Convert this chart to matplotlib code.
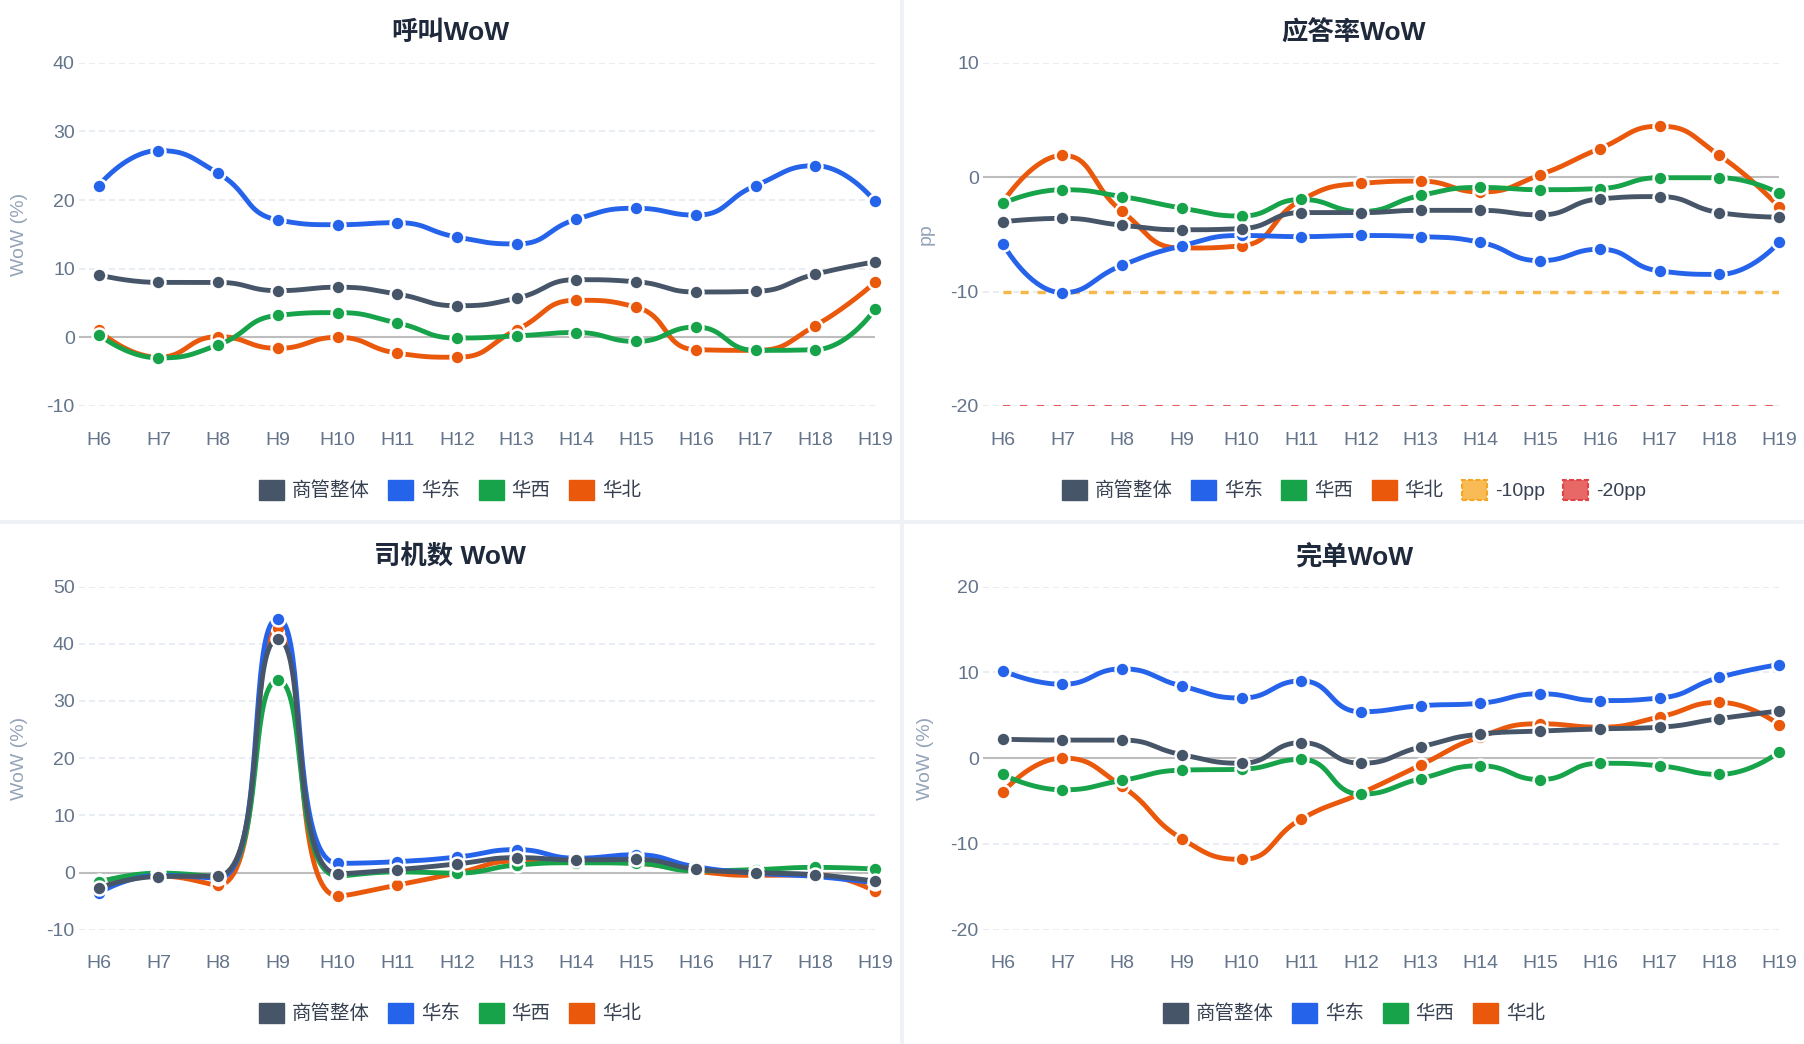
import numpy as np
import matplotlib
matplotlib.use('Agg')
import matplotlib.pyplot as plt
from matplotlib.patches import Patch, Rectangle

plt.rcParams['font.family'] = ['Liberation Sans', 'Noto Sans CJK SC']
plt.rcParams['lines.scale_dashes'] = False
plt.rcParams['axes.unicode_minus'] = False

# ---------------- data ----------------
hours = ['H6', 'H7', 'H8', 'H9', 'H10', 'H11', 'H12', 'H13', 'H14', 'H15', 'H16', 'H17', 'H18', 'H19']
series_names = ['商管整体', '华东', '华西', '华北']
series_colors = ['#475569', '#2563eb', '#16a34a', '#ea580c']

# 呼叫WoW (%)
call_total = [9.1, 8.0, 8.0, 6.8, 7.3, 6.3, 4.6, 5.7, 8.4, 8.1, 6.6, 6.7, 9.2, 11.0]
call_east = [22.1, 27.2, 23.9, 17.1, 16.4, 16.7, 14.6, 13.6, 17.2, 18.8, 17.8, 22.1, 25.0, 19.8]
call_west = [0.4, -3.0, -1.1, 3.2, 3.6, 2.1, -0.1, 0.2, 0.7, -0.6, 1.5, -1.9, -1.8, 4.1]
call_north = [1.0, -2.9, 0.1, -1.6, 0.0, -2.3, -2.9, 1.1, 5.4, 4.4, -1.8, -1.9, 1.7, 8.0]

# 应答率WoW (pp)
ans_total = [-3.9, -3.6, -4.2, -4.6, -4.5, -3.1, -3.1, -2.9, -2.9, -3.3, -1.9, -1.7, -3.1, -3.5]
ans_east = [-5.8, -10.1, -7.7, -6.0, -5.1, -5.2, -5.1, -5.2, -5.7, -7.3, -6.3, -8.2, -8.5, -5.7]
ans_west = [-2.3, -1.1, -1.7, -2.7, -3.4, -1.95, -3.0, -1.6, -0.9, -1.1, -1.0, -0.05, -0.05, -1.4]
ans_north = [-2.2, 1.9, -3.0, -6.2, -6.0, -2.0, -0.55, -0.35, -1.3, 0.2, 2.5, 4.45, 1.9, -2.6]
ref_names = ['-10pp', '-20pp']
ref_values = [-10, -20]

# 司机数 WoW (%)
drv_total = [-2.7, -0.7, -0.6, 40.8, -0.2, 0.5, 1.5, 2.6, 2.2, 2.3, 0.6, 0.0, -0.4, -1.5]
drv_east = [-3.6, -0.5, -1.0, 44.4, 1.6, 1.9, 2.7, 4.0, 2.5, 3.1, 1.0, -0.1, -0.7, -1.8]
drv_west = [-1.7, -0.1, -0.7, 33.6, -0.6, 0.1, -0.1, 1.3, 1.7, 1.6, 0.3, 0.5, 0.9, 0.6]
drv_north = [-1.5, -0.6, -2.2, 42.7, -4.1, -2.2, -0.1, 2.0, 1.9, 1.6, 0.2, -0.5, -0.4, -3.3]

# 完单WoW (%)
ord_total = [2.2, 2.1, 2.1, 0.4, -0.6, 1.8, -0.6, 1.3, 2.8, 3.15, 3.4, 3.6, 4.6, 5.5]
ord_east = [10.2, 8.6, 10.4, 8.4, 7.0, 9.0, 5.4, 6.1, 6.4, 7.5, 6.7, 7.0, 9.4, 10.9]
ord_west = [-1.9, -3.7, -2.6, -1.4, -1.3, -0.15, -4.2, -2.4, -0.9, -2.5, -0.6, -0.9, -1.9, 0.7]
ord_north = [-4.0, 0.0, -3.3, -9.4, -11.8, -7.1, -4.1, -0.8, 2.5, 4.0, 3.6, 4.8, 6.5, 3.9]

panel_titles = ['呼叫WoW', '应答率WoW', '司机数 WoW', '完单WoW']
panel_ylabels = ['WoW (%)', 'pp', 'WoW (%)', 'WoW (%)']
panel_ylims = [(-10, 40), (-20, 10), (-10, 50), (-20, 20)]
panel_yticks = [[-10, 0, 10, 20, 30, 40], [-20, -10, 0, 10],
                [-10, 0, 10, 20, 30, 40, 50], [-20, -10, 0, 10, 20]]
panel_data = [
    [call_total, call_east, call_west, call_north],
    [ans_total, ans_east, ans_west, ans_north],
    [drv_total, drv_east, drv_west, drv_north],
    [ord_total, ord_east, ord_west, ord_north],
]

# ---------------- layout ----------------
W, H = 1804, 1044
fig = plt.figure(figsize=(W / 100, H / 100), dpi=100)
fig.patch.set_facecolor('#eef2f7')

def fr(l, t, r, b):
    return [l / W, 1 - b / H, (r - l) / W, (b - t) / H]

# background cards
bg = fig.add_axes([0, 0, 1, 1], zorder=-10)
bg.set_xlim(0, W)
bg.set_ylim(H, 0)
bg.axis('off')
cards = [(0, 0, 900, 520), (904, 0, 1804, 520), (0, 524, 900, 1044), (904, 524, 1804, 1044)]
for (l, t, r, b) in cards:
    bg.add_patch(Rectangle((l, t), r - l, b - t, facecolor='white', edgecolor='none'))

axes_px = [(79, 62.7, 875, 406), (983, 62.7, 1779, 406),
           (79, 586.5, 875, 929.7), (983, 586.5, 1779, 929.7)]
title_pos = [(450, 33), (1354, 33), (450, 557), (1354, 557)]
ylabel_pos = [(20, 234), (926, 234), (20, 758), (926, 758)]
legend_pos = [(450, 490), (1354, 490), (450, 1013), (1354, 1013)]


def smooth_curve(ax, xs, ys, smooth=0.5, nseg=40):
    pts = ax.transData.transform(np.column_stack([xs, ys]))
    px, py = pts[:, 0], pts[:, 1]
    n = len(px)
    outx, outy = [px[0]], [py[0]]
    cpx0, cpy0 = px[0], py[0]
    for k in range(1, n):
        x, y = px[k], py[k]
        prevX, prevY = px[k - 1], py[k - 1]
        if k == n - 1:
            ncx, ncy = x, y
            cpx1, cpy1 = x, y
        else:
            nextX, nextY = px[k + 1], py[k + 1]
            vx, vy = nextX - prevX, nextY - prevY
            l0 = np.hypot(x - prevX, y - prevY)
            l1 = np.hypot(nextX - x, nextY - y)
            ratio = l1 / (l0 + l1)
            cpx1 = x + vx * smooth * ratio
            cpy1 = y + vy * smooth * ratio
            cpx1 = min(cpx1, max(nextX, x)); cpy1 = min(cpy1, max(nextY, y))
            cpx1 = max(cpx1, min(nextX, x)); cpy1 = max(cpy1, min(nextY, y))
            vx, vy = cpx1 - x, cpy1 - y
            ncx = x - vx * l0 / l1
            ncy = y - vy * l0 / l1
            ncx = min(ncx, max(prevX, x)); ncy = min(ncy, max(prevY, y))
            ncx = max(ncx, min(prevX, x)); ncy = max(ncy, min(prevY, y))
            vx, vy = x - ncx, y - ncy
            cpx1 = x + vx * l1 / l0
            cpy1 = y + vy * l1 / l0
        t = np.linspace(0, 1, nseg)[1:]
        bx = ((1 - t) ** 3) * prevX + 3 * ((1 - t) ** 2) * t * cpx0 + 3 * (1 - t) * t ** 2 * ncx + t ** 3 * x
        by = ((1 - t) ** 3) * prevY + 3 * ((1 - t) ** 2) * t * cpy0 + 3 * (1 - t) * t ** 2 * ncy + t ** 3 * y
        outx.extend(bx); outy.extend(by)
        cpx0, cpy0 = cpx1, cpy1
    inv = ax.transData.inverted().transform(np.column_stack([outx, outy]))
    return inv[:, 0], inv[:, 1]


tick_color = '#64748b'
x = np.arange(len(hours))
draw_order = [3, 2, 1, 0]  # 华北 bottom ... 商管整体 top

for i in range(4):
    l, t, r, b = axes_px[i]
    ax = fig.add_axes(fr(l, t, r, b))
    ax.set_facecolor('none')
    ax.set_xlim(-0.33, 13.0)
    ax.set_ylim(*panel_ylims[i])
    ax.set_yticks(panel_yticks[i])
    ax.set_xticks(x)
    ax.set_xticklabels(hours)
    for s in ax.spines.values():
        s.set_visible(False)
    ax.tick_params(axis='both', length=0, labelsize=14, colors=tick_color)
    ax.tick_params(axis='x', pad=18.5)
    ax.tick_params(axis='y', pad=3)
    for yv in panel_yticks[i]:
        if yv != 0:
            ax.axhline(yv, color='#e2e8f0', lw=1.1, ls=(0, (4.3, 2.9)), zorder=0.5)
    ax.axhline(0, color='#bdbdbd', lw=1.5, zorder=1)

    if i == 1:
        ax.plot(x, [ref_values[0]] * len(x), color='#f7b84b', lw=2.5,
                ls=(0, (5.8, 6.5)), zorder=1.5)
        ax.plot(x, [ref_values[1]] * len(x), color='#e05c5c', lw=1.5,
                ls=(0, (5.2, 7.0)), zorder=1.5)

    for rank, si in enumerate(draw_order):
        ys = panel_data[i][si]
        cx, cy = smooth_curve(ax, x, ys)
        z = 2 + rank
        ax.plot(cx, cy, color=series_colors[si], lw=3.5, solid_capstyle='round',
                zorder=z, clip_on=False)
        ax.plot(x, ys, ls='none', marker='o', ms=10, mfc=series_colors[si],
                mec='white', mew=1.8, zorder=z + 0.5, clip_on=False)

    tx, ty = title_pos[i]
    fig.text(tx / W, 1 - ty / H, panel_titles[i], ha='center', va='center',
             fontsize=19, fontweight='bold', color='#1e293b')
    lx, ly = ylabel_pos[i]
    fig.text(lx / W, 1 - ly / H, panel_ylabels[i], ha='center', va='center',
             rotation=90, fontsize=14, color='#94a3b8')

    handles = [Patch(facecolor=c, edgecolor=c) for c in series_colors]
    labels = list(series_names)
    if i == 1:
        handles += [Patch(facecolor='#f8bb55', edgecolor='#f5a623', ls='--', lw=1.5),
                    Patch(facecolor='#e86868', edgecolor='#e04444', ls='--', lw=1.5)]
        labels += ref_names
    gx, gy = legend_pos[i]
    fig.legend(handles, labels, loc='center', bbox_to_anchor=(gx / W, 1 - gy / H),
               ncol=len(labels), frameon=False, fontsize=14, handlelength=1.28,
               handleheight=1.28, handletextpad=0.41, columnspacing=0.95,
               labelcolor='#374151', borderpad=0, borderaxespad=0)

fig.savefig('out.png', dpi=100, facecolor=fig.get_facecolor())
